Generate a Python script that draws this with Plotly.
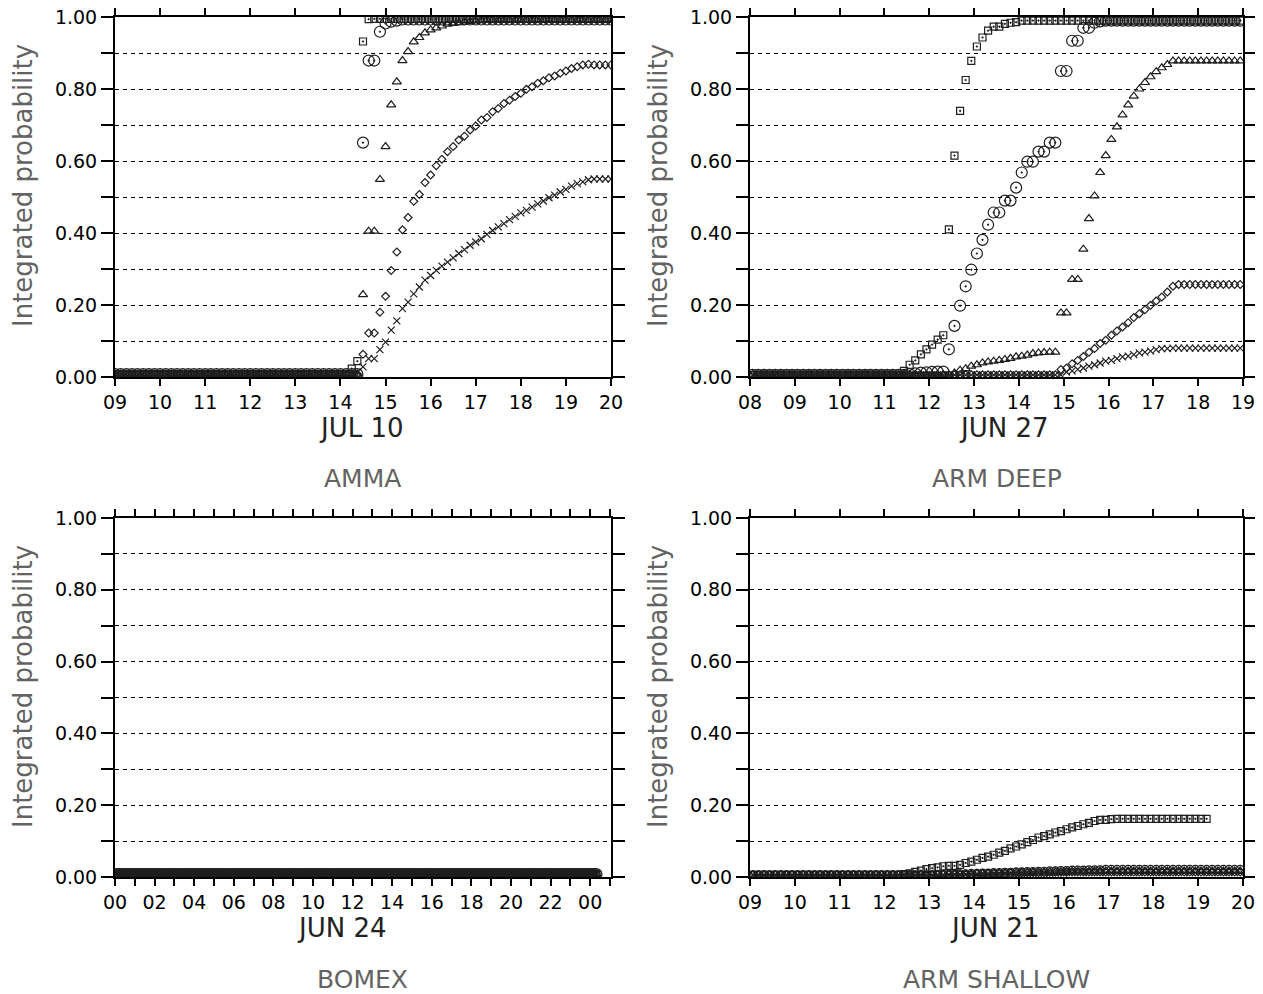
import numpy as np
import plotly.graph_objects as go

# sample times in hours (one every 7.5 min)
amma_t = np.arange(9.0, 20.001, 0.125)             # 89 samples
armdeep_t = np.arange(8.0625, 19.0, 0.125)         # 88 samples
bomex_t = np.arange(0.0625, 24.4, 0.125)           # 195 samples
armshallow_t = np.arange(9.0625, 20.0, 0.125)      # 88 samples

# ---- AMMA (JUL 10) ----
amma_sq = [0.008] * 42 + [0.023, 0.044, 0.932, 0.994] + [0.995] * 43
amma_ci = [0.008] * 44 + [0.651, 0.879, 0.879, 0.959, 0.982, 0.987, 0.99] + [0.993] * 38
amma_tr = [0.008] * 44 + [0.229, 0.405, 0.405, 0.549, 0.64, 0.756, 0.82, 0.879, 0.904, 0.931, 0.943,
                          0.956, 0.964, 0.97, 0.975, 0.98, 0.982, 0.984, 0.986, 0.988, 0.989, 0.99] + [0.992] * 23
amma_di = [0.008] * 44 + [0.063, 0.122, 0.122, 0.18, 0.224, 0.296, 0.347, 0.409, 0.443, 0.488, 0.507,
                          0.54, 0.561, 0.587, 0.605, 0.626, 0.64, 0.658, 0.669, 0.686, 0.697, 0.714,
                          0.721, 0.737, 0.746, 0.76, 0.769, 0.779, 0.788, 0.799, 0.806, 0.816, 0.823,
                          0.831, 0.836, 0.844, 0.85, 0.857, 0.862, 0.867, 0.869] + [0.867] * 4
amma_cr = [0.008] * 43 + [0.014, 0.028, 0.051, 0.051, 0.076, 0.097, 0.13, 0.156, 0.19, 0.208, 0.231,
                          0.25, 0.269, 0.282, 0.296, 0.308, 0.319, 0.331, 0.343, 0.354, 0.366, 0.375,
                          0.384, 0.396, 0.407, 0.417, 0.426, 0.437, 0.446, 0.456, 0.463, 0.472, 0.481,
                          0.489, 0.498, 0.505, 0.514, 0.521, 0.53, 0.537, 0.542, 0.548] + [0.55] * 4

# ---- ARM DEEP (JUN 27) ----
armdeep_sq = [0.006] * 27 + [0.017, 0.034, 0.046, 0.063, 0.077, 0.09, 0.104, 0.116, 0.41, 0.615, 0.739,
                             0.825, 0.878, 0.918, 0.943, 0.962, 0.973, 0.973, 0.981, 0.984, 0.986] + [0.99] * 40
armdeep_ci = [0.006] * 28 + [0.008, 0.01, 0.012, 0.013, 0.014, 0.015, 0.015, 0.077, 0.142, 0.198, 0.252,
                             0.298, 0.343, 0.381, 0.423, 0.457, 0.457, 0.49, 0.49, 0.526, 0.568, 0.598,
                             0.598, 0.626, 0.626, 0.651, 0.651, 0.85, 0.85, 0.934, 0.934, 0.97, 0.97,
                             0.984, 0.988] + [0.99] * 25
armdeep_tr = [0.006] * 36 + [0.011, 0.019, 0.023, 0.03, 0.034, 0.039, 0.042, 0.044, 0.046, 0.049, 0.052,
                             0.056, 0.058, 0.061, 0.065, 0.067, 0.068, 0.069, 0.069, 0.178, 0.178, 0.271,
                             0.271, 0.355, 0.44, 0.503, 0.568, 0.615, 0.66, 0.695, 0.728, 0.756, 0.78,
                             0.8, 0.818, 0.834, 0.848, 0.859, 0.868, 0.878] + [0.878] * 12
armdeep_di = [0.006] * 55 + [0.021, 0.025, 0.037, 0.046, 0.057, 0.069, 0.079, 0.093, 0.102, 0.116, 0.128,
                             0.139, 0.151, 0.165, 0.176, 0.187, 0.199, 0.211, 0.222, 0.236, 0.252] + [0.257] * 12
armdeep_cr = [0.006] * 56 + [0.014, 0.017, 0.021, 0.025, 0.03, 0.034, 0.039, 0.044, 0.046, 0.051, 0.056,
                             0.058, 0.062, 0.067, 0.069, 0.072, 0.076, 0.079, 0.079] + [0.08] * 13

# ---- BOMEX (JUN 24): all five series stay on the floor ----
bomex_all = [0.008] * 195

# ---- ARM SHALLOW (JUN 21) ----
armshallow_sq = [0.006] * 27 + [0.008, 0.01, 0.014, 0.018, 0.022, 0.025, 0.027, 0.03, 0.031, 0.031, 0.034,
                                0.039, 0.043, 0.048, 0.053, 0.057, 0.062, 0.068, 0.073, 0.08, 0.085, 0.091,
                                0.097, 0.103, 0.11, 0.114, 0.119, 0.124, 0.128, 0.133, 0.138, 0.142, 0.147,
                                0.151, 0.156, 0.159, 0.159, 0.161] + [0.162] * 17
armshallow_ci = [0.006] * 33 + [0.007, 0.007, 0.008, 0.008, 0.009, 0.009, 0.01, 0.01, 0.011, 0.011, 0.012,
                                0.012, 0.013, 0.013, 0.014, 0.014, 0.015, 0.015, 0.016, 0.016, 0.017, 0.017,
                                0.018, 0.018, 0.019, 0.019, 0.019, 0.02, 0.02, 0.02] + [0.021] * 25
armshallow_tr = [0.006] * 33 + [0.007, 0.007, 0.008, 0.008, 0.008, 0.009, 0.009, 0.01, 0.01, 0.01, 0.011,
                                0.011, 0.012, 0.012, 0.012, 0.013, 0.013, 0.013, 0.014, 0.014, 0.014, 0.015,
                                0.015, 0.015, 0.016, 0.016, 0.016, 0.016, 0.017, 0.017] + [0.017] * 25
armshallow_di = [0.006] * 33 + [0.006, 0.007, 0.007, 0.007, 0.008, 0.008, 0.008, 0.009, 0.009, 0.009, 0.01,
                                0.01, 0.01, 0.011, 0.011, 0.011, 0.012, 0.012, 0.012, 0.012, 0.013, 0.013,
                                0.013, 0.013, 0.014, 0.014, 0.014, 0.014, 0.014, 0.014] + [0.014] * 25
armshallow_cr = [0.006] * 33 + [0.006, 0.006, 0.007, 0.007, 0.007, 0.007, 0.008, 0.008, 0.008, 0.008, 0.009,
                                0.009, 0.009, 0.009, 0.01, 0.01, 0.01, 0.01, 0.011, 0.011, 0.011, 0.011,
                                0.012, 0.012, 0.012, 0.012, 0.012, 0.012, 0.012, 0.012] + [0.012] * 25

y_ticks = [0, 0.2, 0.4, 0.6, 0.8, 1.0]
y_labels = ['0.00', '0.20', '0.40', '0.60', '0.80', '1.00']

cases = ['AMMA', 'ARM DEEP', 'BOMEX', 'ARM SHALLOW']
dates = ['JUL 10', 'JUN 27', 'JUN 24', 'JUN 21']

FONT = 'DejaVu Sans'
INK = '#1e1e1e'
GREY = '#636363'

symbols = ['square-open-dot', 'circle-open-dot', 'triangle-up-open', 'diamond-open', 'x-thin-open']
sizes = [7, 11, 8, 6, 7]

panels = [
    (amma_t, [amma_sq, amma_ci, amma_tr, amma_di, amma_cr]),
    (armdeep_t, [armdeep_sq, armdeep_ci, armdeep_tr, armdeep_di, armdeep_cr]),
    (bomex_t, [bomex_all] * 5),
    (armshallow_t, [armshallow_sq, armshallow_ci, armshallow_tr, armshallow_di, armshallow_cr]),
]

fig = go.Figure()

for i, (t, series) in enumerate(panels):
    ax = '' if i == 0 else str(i + 1)
    for j, vals in enumerate(series):
        sz = sizes[j]
        if i == 3 and j == 1:
            sz = 8
        fig.add_trace(go.Scatter(
            x=t[:len(vals)], y=vals, mode='markers', xaxis='x' + ax, yaxis='y' + ax,
            marker=dict(symbol=symbols[j], size=sz, color=INK, line=dict(color=INK, width=1.2)),
            showlegend=False, hoverinfo='skip'))

# plot areas in screen pixels; the page body adds an 8 px margin, so subtract it
W, H = 1263, 994
OFF = 8
cols = [(115, 611), (750, 1243)]
rows = [(17, 377), (518, 877)]


def px(x):
    return (x - OFF) / W


def py(y):
    return 1 - (y - OFF) / H


x_setups = [
    dict(range=[9, 20], tickvals=list(range(9, 21)), ticktext=['%02d' % h for h in range(9, 21)]),
    dict(range=[8, 19], tickvals=list(range(8, 20)), ticktext=['%02d' % h for h in range(8, 20)]),
    dict(range=[0, 25.05], tickvals=list(range(0, 25, 2)), ticktext=['%02d' % (h % 24) for h in range(0, 25, 2)],
         minor=dict(dtick=1, tick0=0, ticks='outside', ticklen=7, tickwidth=1.5, tickcolor='black')),
    dict(range=[9, 20], tickvals=list(range(9, 21)), ticktext=['%02d' % h for h in range(9, 21)]),
]

grid = dict(showgrid=True, gridcolor='black', gridwidth=1, griddash='4px,4px')

for i in range(4):
    ax = '' if i == 0 else str(i + 1)
    c = cols[i % 2]
    r = rows[i // 2]
    xa = dict(domain=[px(c[0]), px(c[1])], anchor='y' + ax, ticks='outside', ticklen=7, tickwidth=1.5,
              tickcolor='black', showline=True, linewidth=2, linecolor='black', mirror='ticks',
              showgrid=False, zeroline=False, automargin=False, ticklabeloverflow='allow',
              tickfont=dict(family=FONT, size=19, color='black'))
    xa.update(x_setups[i])
    ya = dict(domain=[py(r[1]), py(r[0])], anchor='x' + ax, range=[0, 1], tickvals=y_ticks, ticktext=y_labels,
              ticks='outside', ticklen=12, tickwidth=1.5, tickcolor='black',
              showline=True, linewidth=2, linecolor='black', mirror='ticks', zeroline=False,
              automargin=False, ticklabeloverflow='allow',
              tickfont=dict(family=FONT, size=19, color='black'),
              minor=dict(dtick=0.1, tick0=0, ticks='outside', ticklen=12, tickwidth=1.5, tickcolor='black', **grid),
              **grid)
    fig.layout['xaxis' + ax] = xa
    fig.layout['yaxis' + ax] = ya

    cx = (c[0] + c[1]) / 2
    date_x = [361, 1004, 342, 995][i]
    fig.add_annotation(x=px(date_x), y=py(r[1] + 51), xref='paper', yref='paper', text=dates[i],
                       xanchor='center', yanchor='middle', showarrow=False,
                       font=dict(family=FONT, size=26, color='#222'))
    fig.add_annotation(x=px(cx), y=py(r[1] + 102), xref='paper', yref='paper', text=cases[i],
                       xanchor='center', yanchor='middle', showarrow=False,
                       font=dict(family=FONT, size=25, color=GREY))
    fig.add_annotation(x=px(c[0] - 92), y=py(r[0] + 169), xref='paper', yref='paper',
                       text='Integrated probability', textangle=-90, xanchor='center', yanchor='middle',
                       showarrow=False, font=dict(family=FONT, size=26, color=GREY))

fig.update_layout(width=W, height=H, margin=dict(l=0, r=0, t=0, b=0, autoexpand=False),
                  paper_bgcolor='white', plot_bgcolor='white')

fig.write_html('out.html')
